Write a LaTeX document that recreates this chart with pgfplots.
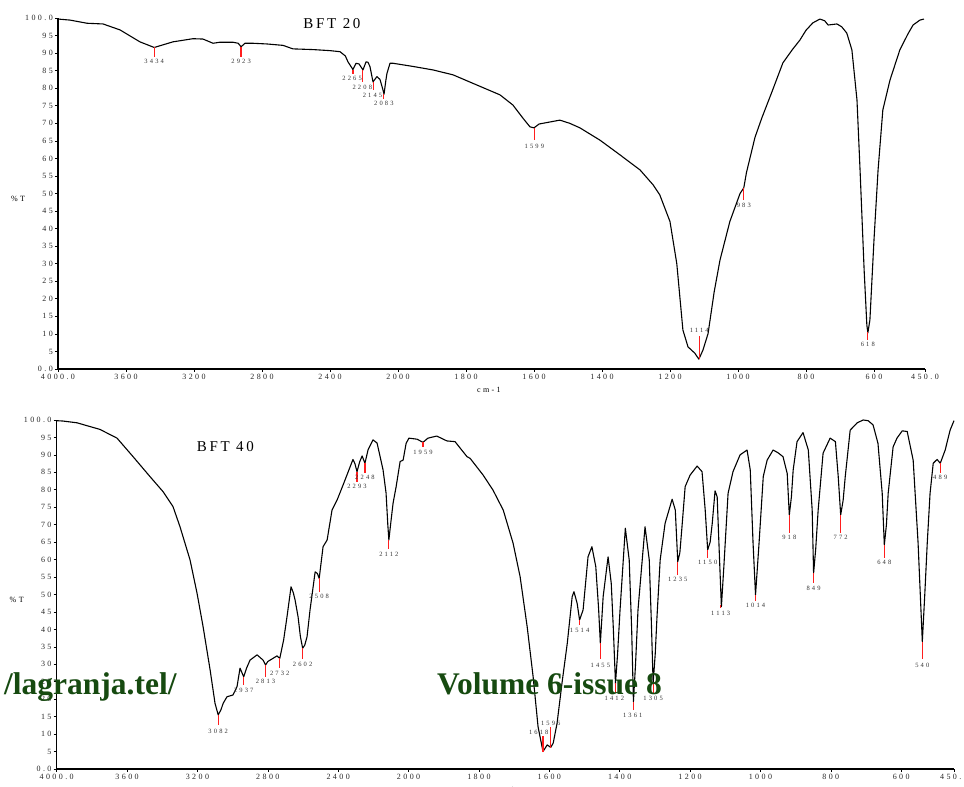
\documentclass[border=0pt]{standalone}
\usepackage{fontspec}
\setmainfont{Liberation Serif}
\newfontfamily\tickfont[LetterSpace=30]{Liberation Serif}
\newfontfamily\peakfont[LetterSpace=33]{Liberation Serif}
\newfontfamily\titlefont[LetterSpace=18]{Liberation Serif}
\usepackage{pgfplots}
\pgfplotsset{compat=1.18}
\definecolor{wm}{RGB}{22,74,16}
\definecolor{pk}{RGB}{255,30,30}
\pgfplotsset{
  irstyle/.style={
    scale only axis,
    axis x line*=bottom, axis y line*=left,
    axis line style={line width=1.1pt},
    x dir=reverse, xmin=-1100, xmax=4000, ymin=0, ymax=100,
    x filter/.expression={x>=2000 ? x : 2*x-2000},
    xtick={4000,3600,3200,2800,2400,2000,1600,1200,800,400,0,-400,-800,-1100},
    xticklabels={4000.0,3600,3200,2800,2400,2000,1800,1600,1400,1200,1000,800,600,450.0},
    ytick={0,5,...,100},
    yticklabels={0.0,5,10,15,20,25,30,35,40,45,50,55,60,65,70,75,80,85,90,95,100.0},
    tick align=outside, major tick length=3pt,
    tick style={black, line width=0.6pt},
    ticklabel style={font=\tickfont\fontsize{8}{9}\selectfont, text=black!85},
    yticklabel style={inner sep=2pt},
    xticklabel style={inner sep=2pt},
    clip=false,
    every axis x label/.style={at={(axis description cs:0.497,0)}, anchor=center, yshift=-21pt, font=\tickfont\fontsize{8}{9}\selectfont},
    every axis y label/.style={at={(axis description cs:0,0.484)}, anchor=center, xshift=-40pt, font=\tickfont\fontsize{8}{9}\selectfont},
    xlabel={cm-1}, ylabel={\%T},
  },
  curve/.style={black, line width=1.1pt, line join=round},
  pkline/.style={pk, line width=1.2pt, unbounded coords=jump},
  pklab/.style={only marks, mark=none, nodes near coords, point meta=explicit symbolic,
    nodes near coords style={anchor=center, font=\peakfont\fontsize{6.5}{7}\selectfont, text=black!80, inner sep=0pt}},
}
\begin{document}
\begin{tikzpicture}[x=1pt,y=1pt]
\useasboundingbox (0,0) rectangle (964,787);
% ---------------- top: BFT 20 ----------------
\begin{axis}[irstyle, at={(58pt,418pt)}, anchor=south west, width=867pt, height=351pt]
\addplot[curve] coordinates {
(4000,99.7)(3929,99.4)(3829,98.5)(3735,98.3)(3635,96.6)(3518,93.2)(3434,91.6)(3324,93.2)(3206,94.1)(3147,94.0)
(3088,92.8)(3047,93.1)(2971,93.1)(2940,92.8)(2923,91.8)(2900,92.8)(2853,92.8)(2771,92.6)(2676,92.2)(2618,91.2)
(2500,91.0)(2400,90.7)(2341,90.4)(2310,89.2)(2294,87.5)(2265,85.3)(2247,87.1)(2229,86.9)(2206,85.2)(2188,87.5)(2177,87.4)
(2165,86.2)(2147,81.8)(2124,83.3)(2106,82.5)(2094,80.5)(2082,78.3)(2072,82.0)(2065,84.2)(2047,87.1)(2029,87.1)
(1956,86.2)(1897,85.2)(1838,83.8)(1780,81.4)(1700,78.1)(1662,75.2)(1632,71.4)(1612,69.0)(1600,68.7)(1585,69.8)(1568,70.1)
(1524,70.9)(1495,70.0)(1465,68.7)(1406,65.2)(1347,61.0)(1288,56.7)(1250,52.5)(1230,49.6)(1200,42.0)(1180,30.0)
(1162,11.1)(1147,6.3)(1127,4.5)(1115,2.8)(1103,5.4)(1088,10.1)(1070,22.0)(1053,31.0)(1024,42.0)(994,50.0)(983,51.6)
(975,56.0)(950,66.0)(930,71.5)(900,79.0)(868,87.2)(840,91.0)(818,93.7)(800,96.5)(780,98.6)(759,99.7)(745,99.2)
(735,98.0)(709,98.3)(695,97.5)(680,95.7)(665,90.9)(659,85.2)(650,76.6)(641,56.7)(629,28.2)(621,12.5)(618,10.3)
(612,14.0)(600,36.8)(588,56.7)(574,73.8)(553,82.3)(524,90.9)(500,95.5)(485,98.0)(465,99.4)(453,99.7)
};
\addplot[pkline] coordinates {
(3434,91.6)(3434,88.9)(3434,nan)
(2923,91.8)(2923,88.9)(2923,nan)
(2265,85.3)(2265,84.0)(2265,nan)
(2208,85.2)(2208,81.9)(2208,nan)
(2145,81.9)(2145,79.5)(2145,nan)
(2083,78.3)(2083,76.9)(2083,nan)
(1599,68.7)(1599,65.2)(1599,nan)
(1114,2.8)(1114,9.3)(1114,nan)
(983,51.6)(983,48.1)(983,nan)
(618,10.4)(618,8.3)
};
\addplot[pklab] table[meta=lab, row sep=\\] {
x y lab\\
3434 87.5 3434\\
2923 87.5 2923\\
2270 82.7 2265\\
2210 80.3 2208\\
2150 77.9 2145\\
2083 75.6 2083\\
1599 63.5 1599\\
1114 10.9 1114\\
983 46.7 983\\
618 7.1 618\\
};
\node[font=\titlefont\fontsize{15}{16}\selectfont] at (axis description cs:0.316,0.983) {BFT 20};
\end{axis}
% ---------------- bottom: BFT 40 ----------------
\begin{axis}[irstyle, at={(56.7pt,18pt)}, anchor=south west, width=897.3pt, height=349pt]
\addplot[curve] coordinates {
(4000,99.8)(3964,99.7)(3885,99.2)(3754,97.3)(3657,94.8)(3566,89.5)(3470,83.8)(3396,79.5)(3339,75.2)(3299,69.4)
(3242,59.9)(3202,50.3)(3168,40.8)(3128,28.4)(3100,18.8)(3082,15.5)(3066,17.0)(3054,18.8)(3032,20.7)(2998,21.2)(2975,23.6)
(2958,28.9)(2937,26.4)(2920,29.0)(2901,31.2)(2861,32.7)(2827,31.2)(2813,29.8)(2800,30.8)(2787,31.2)(2748,32.4)(2732,31.7)
(2710,37.0)(2691,43.6)(2668,52.2)(2655,50.5)(2645,48.4)(2628,43.6)(2615,38.0)(2602,34.6)(2590,35.5)(2577,37.9)(2560,45.6)
(2531,56.5)(2518,56.0)(2508,54.6)(2486,63.7)(2463,65.6)(2435,74.2)(2406,77.1)(2372,81.4)(2316,88.7)(2305,87.5)(2293,85.2)
(2278,88.0)(2264,89.7)(2248,87.6)(2230,91.5)(2202,94.3)(2179,93.4)(2145,85.7)(2128,79.1)(2118,70.0)(2112,65.6)
(2100,71.0)(2088,76.2)(2071,80.8)(2048,88.1)(2031,88.5)(2014,93.3)(1999,94.8)(1976,94.5)(1959,93.6)(1945,94.8)
(1920,95.4)(1891,94.0)(1868,93.8)(1834,89.5)(1825,89.0)(1788,84.2)(1760,79.9)(1731,74.2)(1703,64.7)(1683,55.1)
(1663,40.8)(1646,26.4)(1632,12.1)(1618,5.0)(1606,6.9)(1596,6.2)(1589,7.4)(1578,13.1)(1564,24.6)(1549,36.0)(1535,49.4)
(1530,50.8)(1521,47.5)(1514,42.7)(1504,45.6)(1490,60.8)(1479,63.7)(1468,58.0)(1460,46.0)(1455,36.0)(1447,49.4)(1433,60.8)
(1424,53.2)(1418,40.0)(1412,24.5)(1406,33.0)(1399,45.6)(1384,69.0)(1373,59.9)(1366,40.0)(1361,19.3)(1355,30.0)(1348,45.6)
(1328,69.4)(1316,59.9)(1310,42.0)(1305,24.6)(1299,33.0)(1294,43.6)(1285,59.9)(1271,70.4)(1251,77.3)(1242,74.2)
(1235,59.4)(1229,62.0)(1223,69.4)(1214,80.9)(1200,84.2)(1180,86.8)(1166,85.2)(1157,74.2)(1150,62.8)(1143,65.0)(1137,70.4)
(1129,79.7)(1123,78.0)(1117,62.0)(1111,46.5)(1104,58.0)(1096,72.0)(1092,79.0)(1078,85.2)(1058,90.0)(1038,91.4)
(1029,85.7)(1021,64.7)(1014,49.9)(1004,64.7)(992,83.8)(981,88.5)(964,91.4)(950,90.6)(936,89.5)(924,84.7)(918,72.8)
(912,78.0)(907,85.7)(896,93.8)(879,96.4)(864,91.4)(853,74.2)(849,56.1)(843,63.0)(836,74.2)(822,90.5)(802,94.8)(787,93.8)
(779,83.8)(772,72.8)(765,77.0)(759,83.8)(745,97.1)(725,99.2)(708,100.0)(694,99.8)(680,98.6)(666,93.3)(654,79.0)(648,64.2)
(642,70.0)(637,79.0)(623,92.3)(612,94.8)(597,96.9)(583,96.7)(566,88.5)(552,64.7)(540,36.5)(533,50.0)(526,64.7)
(518,79.0)(509,87.6)(498,88.7)(489,87.6)(475,91.4)(461,97.1)(450,99.8)
};
\addplot[pkline] coordinates {
(3082,15.5)(3082,12.6)(3082,nan)
(2937,26.4)(2937,24.1)(2937,nan)
(2813,29.8)(2813,26.4)(2813,nan)
(2732,31.7)(2732,28.9)(2732,nan)
(2602,34.6)(2602,31.4)(2602,nan)
(2508,54.6)(2508,50.8)(2508,nan)
(2293,85.2)(2293,82.3)(2293,nan)
(2248,87.6)(2248,84.7)(2248,nan)
(2112,65.6)(2112,62.9)(2112,nan)
(1959,93.8)(1959,92.2)(1959,nan)
(1618,5.0)(1618,9.5)(1618,nan)
(1596,6.1)(1596,11.9)(1596,nan)
(1514,42.7)(1514,41.3)(1514,nan)
(1455,36.0)(1455,31.4)(1455,nan)
(1412,24.5)(1412,21.8)(1412,nan)
(1361,19.3)(1361,16.9)(1361,nan)
(1305,24.6)(1305,21.7)(1305,nan)
(1235,59.4)(1235,55.6)(1235,nan)
(1150,62.8)(1150,60.5)(1150,nan)
(1113,47.0)(1113,46.0)(1113,nan)
(1014,49.9)(1014,48.2)(1014,nan)
(918,72.8)(918,67.7)(918,nan)
(849,56.1)(849,53.2)(849,nan)
(772,72.8)(772,67.7)(772,nan)
(648,64.2)(648,60.4)(648,nan)
(540,36.5)(540,31.4)(540,nan)
(489,87.6)(489,84.7)
};
\addplot[pklab] table[meta=lab, row sep=\\] {
x y lab\\
3082 10.9 3082\\
2937 22.4 2937\\
2813 25.0 2813\\
2732 27.4 2732\\
2602 30.0 2602\\
2508 49.4 2508\\
2293 80.9 2293\\
2248 83.5 2248\\
2112 61.5 2112\\
1959 90.6 1959\\
1630 10.4 1618\\
1596 13.1 1596\\
1514 39.6 1514\\
1455 29.8 1455\\
1415 20.3 1412\\
1363 15.5 1361\\
1305 20.2 1305\\
1235 54.4 1235\\
1150 59.1 1150\\
1113 44.6 1113\\
1014 46.8 1014\\
918 66.3 918\\
849 51.7 849\\
772 66.3 772\\
648 59.1 648\\
540 29.8 540\\
489 83.5 489\\
};
\node[font=\titlefont\fontsize{15}{16}\selectfont] at (axis description cs:0.188,0.9235) {BFT 40};
\end{axis}
% watermark
\node[anchor=base west, inner sep=0pt, text=wm, font=\bfseries\fontsize{31.5}{34}\selectfont] at (4,92) {/lagranja.tel/};
\node[anchor=base west, inner sep=0pt, text=wm, font=\bfseries\fontsize{31.5}{34}\selectfont] at (437,92) {Volume 6-issue 8};
\end{tikzpicture}
\end{document}
